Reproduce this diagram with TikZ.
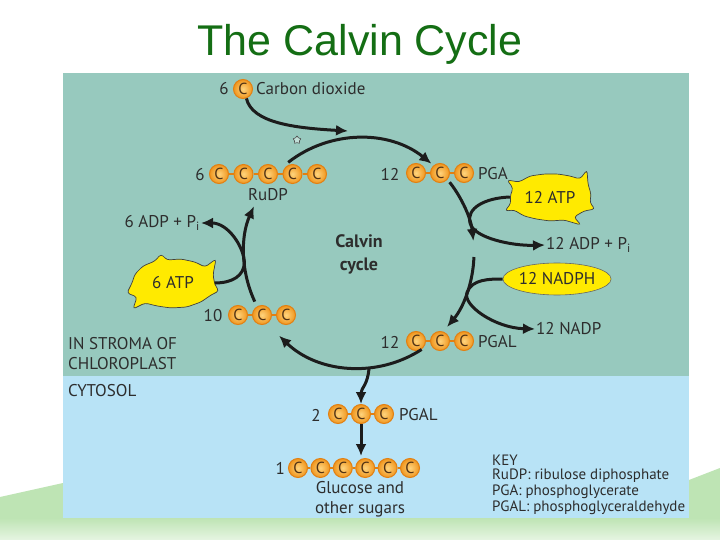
\documentclass[tikz,border=0pt]{standalone}
\usepackage{fontspec}
\setmainfont{PT Sans}
\newfontfamily\titlefont{Liberation Sans}
\usetikzlibrary{arrows.meta,calc,shapes.geometric}
\definecolor{titlegreen}{RGB}{20,110,20}
\definecolor{stroma}{RGB}{151,201,190}
\definecolor{cytosol}{RGB}{184,227,246}
\definecolor{carbonin}{RGB}{254,212,125}
\definecolor{carbonout}{RGB}{240,150,30}
\definecolor{carbonedge}{RGB}{226,128,18}
\definecolor{carbontext}{RGB}{80,50,20}
\definecolor{atpyellow}{RGB}{255,234,0}
\definecolor{textgray}{RGB}{45,45,45}
\definecolor{arrowgray}{RGB}{28,28,28}
\definecolor{bandgreen}{RGB}{190,228,180}
\definecolor{palegreen}{RGB}{230,245,226}

\begin{document}
\begin{tikzpicture}[x=1pt,y=-1pt,
    lbl/.style={font=\fontsize{17}{20}\selectfont,text=textgray,inner sep=1pt},
    keytext/.style={font=\fontsize{15}{17}\selectfont,text=textgray,anchor=west,inner sep=0pt},
    carbon/.style={circle,draw=carbonedge,line width=1pt,inner color=carbonin,outer color=carbonout,
      minimum size=19pt,inner sep=0pt,text=carbontext,font=\fontsize{16}{18}\selectfont},
    bond/.style={draw=carbonedge,line width=2.5pt},
    energy/.style={ellipse,inner sep=0pt,font=\fontsize{17}{20}\selectfont,text=textgray},
    blob/.style={fill=atpyellow,draw=black!75,line width=0.7pt,rounded corners=3pt},
    arrow/.style={-{Latex[length=12pt,width=11pt]},line width=3pt,draw=arrowgray}
  ]
  \useasboundingbox (0,0) rectangle (720,540);
  \fill[white] (0,0) rectangle (720,540);

  % page decoration
  \shade[top color=bandgreen,bottom color=palegreen] (0,518) rectangle (720,540);
  \fill[bandgreen] (0,497) -- (63,483) -- (63,518) -- (0,518) -- cycle;
  \fill[bandgreen] (689,480) -- (720,468) -- (720,518) -- (689,518) -- cycle;

  \node[font=\titlefont\fontsize{43}{50}\selectfont,text=titlegreen] (title) at (360,44) {The Calvin Cycle};

  % stroma and cytosol
  \fill[stroma] (63,73) rectangle (689,376);
  \fill[cytosol] (63,376) rectangle (689,518);
  \node[lbl,anchor=west,align=left] (instroma) at (67,354) {IN STROMA OF\\CHLOROPLAST};
  \node[lbl,anchor=west] (cyto) at (67,391) {CYTOSOL};

  % carbon chains
  \node[lbl] (co2n) at (224,89) {6};
  \node[carbon] (co2) at (243,89) {C};
  \node[lbl,anchor=west] (co2t) at (255,89) {Carbon dioxide};

  \foreach \k in {1,...,5}
    \node[carbon] (ru\k) at ({194.5+24.5*\k},174) {C};
  \foreach \a/\b in {1/2,2/3,3/4,4/5}
    \draw[bond] (ru\a) -- (ru\b);
  \node[lbl] (run) at (200,175) {6};
  \node[lbl] (rut) at (268,195) {RuDP};

  \foreach \k in {1,...,3} {
    \node[carbon] (pga\k) at ({392+24*\k},173) {C};
    \node[carbon] (pgal\k) at ({392+24*\k},341) {C};
    \node[carbon] (ten\k) at ({214+24*\k},315) {C};
    \node[carbon] (cy\k) at ({315+23*\k},414) {C};
  }
  \foreach \a/\b in {1/2,2/3} {
    \draw[bond] (pga\a) -- (pga\b);
    \draw[bond] (pgal\a) -- (pgal\b);
    \draw[bond] (ten\a) -- (ten\b);
    \draw[bond] (cy\a) -- (cy\b);
  }
  \node[lbl] (pgan) at (390,174) {12};
  \node[lbl,anchor=west] (pgat) at (477,174) {PGA};
  \node[lbl] (pgaln) at (390,342) {12};
  \node[lbl,anchor=west] (pgalt) at (477,342) {PGAL};
  \node[lbl] (tenn) at (213,316) {10};
  \node[lbl] (cyn) at (316,415) {2};
  \node[lbl,anchor=west] (cyt) at (398,415) {PGAL};

  \foreach \k in {1,...,6}
    \node[carbon] (glu\k) at ({275.6+22.4*\k},468) {C};
  \foreach \a/\b in {1/2,2/3,3/4,4/5,5/6}
    \draw[bond] (glu\a) -- (glu\b);
  \node[lbl,anchor=east] (glun) at (286,468) {1};
  \node[lbl,align=center,font=\fontsize{17}{20}\selectfont] (glut) at (360,499) {Glucose and\\other sugars};

  % energy carriers
  \begin{scope}[shift={(550,197)}]
    \draw[blob] (-40,0) -- (-37,-9) -- (-43,-17) -- (-31,-15) -- (-20,-21) -- (-6,-23) -- (8,-23)
      -- (20,-21) -- (30,-18) -- (37,-27) -- (38,-13) -- (41,-3) -- (40,6) -- (45,12) -- (34,14)
      -- (24,20) -- (31,28) -- (14,23) -- (0,24) -- (-14,22) -- (-26,19) -- (-36,13) -- (-45,14)
      -- (-39,6) -- cycle;
  \end{scope}
  \begin{scope}[shift={(173,283)}]
    \draw[blob] (-41,0) -- (-38,-9) -- (-30,-17) -- (-18,-22) -- (-12,-29) -- (-6,-23) -- (8,-24)
      -- (22,-21) -- (32,-16) -- (43,-24) -- (40,-8) -- (42,2) -- (46,8) -- (38,12) -- (28,19)
      -- (14,24) -- (-2,25) -- (-16,23) -- (-28,20) -- (-40,26) -- (-36,14) -- (-46,10) -- cycle;
  \end{scope}
  \node[energy,minimum width=80pt,minimum height=46pt] (atpa) at (550,197) {12 ATP};
  \node[energy,fill=atpyellow,draw=black!60,line width=0.6pt,minimum width=94pt,minimum height=32pt] (nadph) at (557,279) {12 NADPH};
  \node[energy,minimum width=83pt,minimum height=50pt] (atpb) at (173,283) {6 ATP};
  \node[lbl,anchor=west] (adpa) at (545,245) {12 ADP + P\textsubscript{i}};
  \node[lbl,anchor=west] (nadp) at (535,329) {12 NADP};
  \node[lbl,anchor=east] (adpb) at (201,223) {6 ADP + P\textsubscript{i}};

  \node[font=\bfseries\fontsize{18}{23}\selectfont,text=textgray,align=center] (cyc) at (359,254) {Calvin\\cycle};

  % the cycle
  \coordinate (ctr) at (359,253);
  \coordinate (fix) at (348,131);
  \coordinate (j1) at ($(ctr)+(345:115)$);
  \coordinate (j2) at ($(ctr)+(20:115)$);
  \coordinate (j3) at ($(ctr)+(176:115)$);
  \coordinate (jc) at ($(ctr)+(85:115)$);
  \coordinate (gtop) at (361,456);

  \draw[arrow] (co2.-70) .. controls (252,123) and (295,128) .. (fix);
  \node[star,star points=5,draw=black!70,fill=stroma!60!white,line width=0.6pt,minimum size=8pt,inner sep=0pt] (star) at (297,140) {};

  \draw[arrow] ($(ctr)+(232:115)$) arc[start angle=232,end angle=309,radius=115];
  \draw[arrow] ($(ctr)+(322:115)$) arc[start angle=322,end angle=354,radius=115];
  \draw[arrow] ($(ctr)+(2:115)$) arc[start angle=2,end angle=40,radius=115];
  \draw[arrow] ($(ctr)+(57:115)$) arc[start angle=57,end angle=134,radius=115];
  \draw[arrow] ($(ctr)+(155:115)$) arc[start angle=155,end angle=204,radius=115];

  \draw[arrow] (atpa.west) .. controls (485,198) and (466,208) .. (j1)
    .. controls (474,238) and (512,246) .. (adpa.west);
  \draw[arrow] (nadph.west) .. controls (490,279) and (472,279) .. (j2)
    .. controls (462,305) and (495,328) .. (nadp.west);
  \draw[arrow] (atpb.east) .. controls (232,283) and (245,276) .. (j3)
    .. controls (243,246) and (228,223) .. (adpb.east);

  \draw[arrow] (jc) .. controls (368,385) and (361,388) .. (cy2.north);
  \draw[arrow] (cy2.south) -- (gtop);

  % key
  \node[keytext] (key) at (492,460) {KEY};
  \node[keytext] (keyru) at (492,476) {RuDP: ribulose diphosphate};
  \node[keytext] (keypga) at (492,492) {PGA: phosphoglycerate};
  \node[keytext] (keypgal) at (492,508) {PGAL: phosphoglyceraldehyde};
\end{tikzpicture}
\end{document}
